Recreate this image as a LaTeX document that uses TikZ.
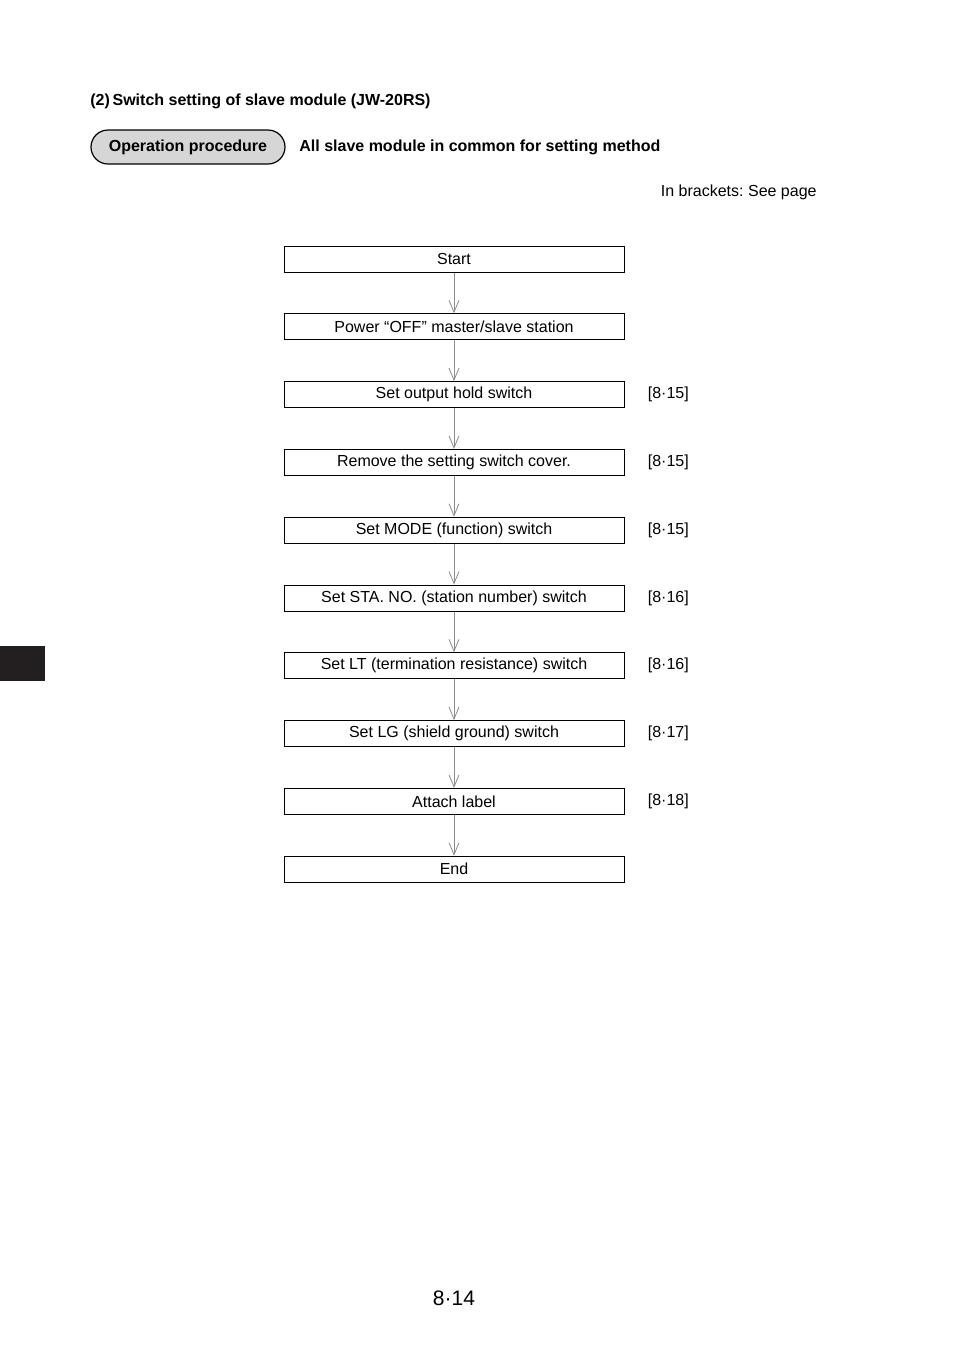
\documentclass[tikz,border=0pt]{standalone}
\usepackage{fontspec}
\setmainfont{Liberation Sans}
\usetikzlibrary{arrows.meta}
\definecolor{TabBlack}{RGB}{35,31,32}
\definecolor{PillGray}{RGB}{214,214,214}
\definecolor{FlowGray}{RGB}{140,140,140}
\frenchspacing

\begin{document}
\begin{tikzpicture}[x=0.5pt,y=-0.5pt,
    stepbox/.style={draw,line width=0.5pt,minimum width=170pt,minimum height=13pt,inner sep=0pt,font=\fontsize{8}{9.6}\selectfont},
    pill/.style={draw,line width=0.6pt,fill=PillGray,rounded corners=8.5pt,minimum width=97pt,minimum height=17pt,inner sep=0pt,font=\fontsize{8}{9.6}\selectfont\bfseries},
    pageref/.style={anchor=west,inner sep=0pt,font=\fontsize{8}{9.6}\selectfont},
    flowarrow/.style={FlowGray,line width=0.4pt,-{Straight Barb[length=6pt,width=5pt,line width=0.4pt]}}]
    \useasboundingbox (0,0) rectangle (954,1351);
    % header
    \node[anchor=west,inner sep=0pt,font=\fontsize{8}{9.6}\selectfont\bfseries] (title) at (90,101) {(2)\,Switch setting of slave module (JW-20RS)};
    \node[pill] (oper) at (188,147) {Operation procedure};
    \node[anchor=west,inner sep=0pt,font=\fontsize{8}{9.6}\selectfont\bfseries] (common) at (299,147) {All slave module in common for setting method};
    \node[anchor=east,inner sep=0pt,font=\fontsize{8}{9.6}\selectfont] (note) at (817,192) {In brackets: See page};
    % steps
    \foreach \i/\txt in {0/Start, 1/{Power “OFF” master/slave station}, 2/Set output hold switch, 3/Remove the setting switch cover., 4/Set MODE (function) switch, 5/Set STA. NO. (station number) switch, 6/Set LT (termination resistance) switch, 7/Set LG (shield ground) switch, 8/Attach label, 9/End} {
        \node[stepbox] (s\i) at (454,259+67.8*\i) {\txt};
    }
    \foreach \i in {0,...,8} {
        \pgfmathtruncatemacro{\j}{\i+1}
        \draw[flowarrow] (s\i) -- (s\j);
    }
    % page references
    \foreach \i/\pg in {2/15, 3/15, 4/15, 5/16, 6/16, 7/17, 8/18}
        \node[pageref] (p\i) at ([xshift=11.5pt]s\i.east) {[8·\pg]};
    % side tab and page number
    \fill[TabBlack] (0,646) rectangle (45,681);
    \node[font=\fontsize{10.5}{12.6}\selectfont] (pagenum) at (454,1298) {8·14};
\end{tikzpicture}
\end{document}
